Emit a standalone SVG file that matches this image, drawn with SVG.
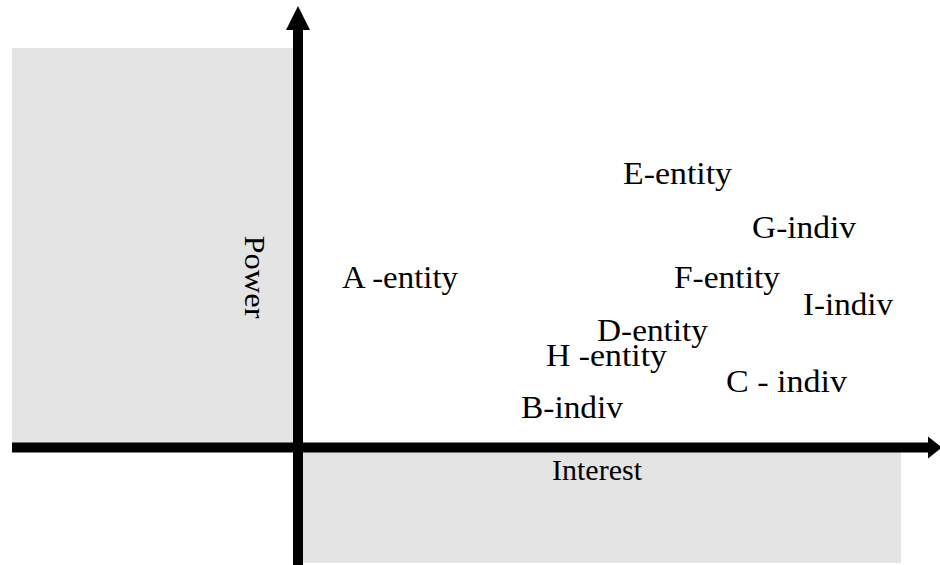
<svg xmlns="http://www.w3.org/2000/svg" width="940" height="565" viewBox="0 0 940 565">
<style>
.bg{fill:#e4e4e4}
.lbl{font-family:"Liberation Serif","Times New Roman",serif;font-size:32px;fill:#000}
.axis{stroke:#000;stroke-width:10;fill:none}
.head{fill:#000}
</style>
<rect width="940" height="565" fill="#fff"/>
<g id="quadrants">
<rect class="bg" x="12" y="48" width="281" height="395"/>
<rect class="bg" x="303" y="452" width="598" height="111"/>
</g>
<g id="connectors">
<line class="axis" x1="298" y1="28" x2="298" y2="565"/>
<polygon class="head" points="298,6 310,30 286,30"/>
<line class="axis" x1="12" y1="447.5" x2="929" y2="447.5"/>
<polygon class="head" points="942,447.5 928,436.5 928,458.5"/>
</g>
<g id="axis-power"><text class="lbl" style="font-size:30px" transform="translate(245,277) rotate(90)" text-anchor="middle" textLength="83" lengthAdjust="spacingAndGlyphs">Power</text></g>
<g id="axis-interest"><text class="lbl" style="font-size:29px" x="552" y="480" textLength="90" lengthAdjust="spacingAndGlyphs">Interest</text></g>
<g id="node-A"><text class="lbl" x="342" y="288" textLength="116" lengthAdjust="spacingAndGlyphs">A -entity</text></g>
<g id="node-E"><text class="lbl" x="623" y="184" textLength="109" lengthAdjust="spacingAndGlyphs">E-entity</text></g>
<g id="node-G"><text class="lbl" x="752" y="238" textLength="104" lengthAdjust="spacingAndGlyphs">G-indiv</text></g>
<g id="node-F"><text class="lbl" x="674" y="288" textLength="106" lengthAdjust="spacingAndGlyphs">F-entity</text></g>
<g id="node-I"><text class="lbl" x="803" y="315" textLength="90" lengthAdjust="spacingAndGlyphs">I-indiv</text></g>
<g id="node-D"><text class="lbl" x="597" y="341" textLength="111" lengthAdjust="spacingAndGlyphs">D-entity</text></g>
<g id="node-H"><text class="lbl" x="546" y="366" textLength="121" lengthAdjust="spacingAndGlyphs">H -entity</text></g>
<g id="node-C"><text class="lbl" x="726" y="392" textLength="121" lengthAdjust="spacingAndGlyphs">C - indiv</text></g>
<g id="node-B"><text class="lbl" x="521" y="418" textLength="102" lengthAdjust="spacingAndGlyphs">B-indiv</text></g>
</svg>
